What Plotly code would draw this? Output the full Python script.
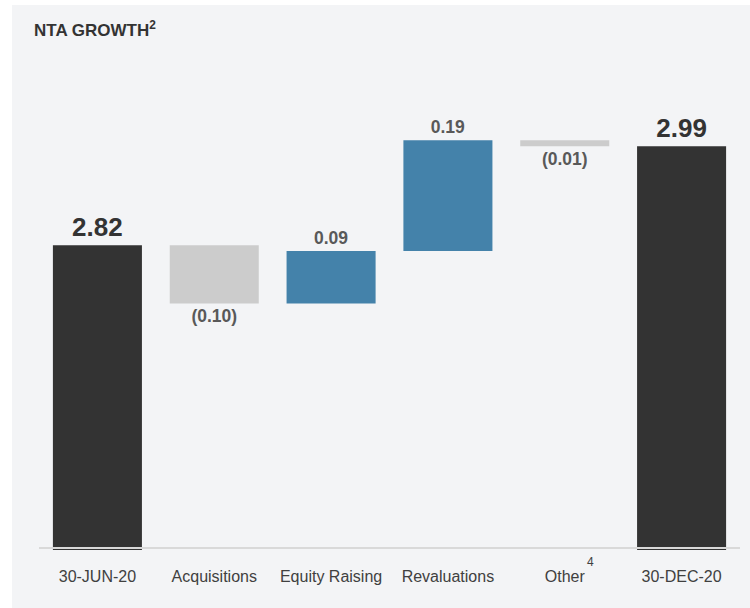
import plotly.graph_objects as go

# ---- data ----
categories = ["30-JUN-20", "Acquisitions", "Equity Raising", "Revaluations", "Other", "30-DEC-20"]
values = [2.82, -0.10, 0.09, 0.19, -0.01, 2.99]
kinds = ["total", "delta", "delta", "delta", "delta", "total"]
tick_labels = ["30-JUN-20", "Acquisitions", "Equity Raising", "Revaluations", "Other", "30-DEC-20"]
title_text = "NTA GROWTH<sup>2</sup>"
other_note = "4"

# ---- derived bar geometry from data ----
bases, heights, texts, colors, sizes, tcolors = [], [], [], [], [], []
running = 0.0
for v, k in zip(values, kinds):
    if k == "total":
        bases.append(0)
        heights.append(v)
        running = v
        texts.append("<b>%.2f</b>" % v)
        colors.append("#333333")
        sizes.append(26)
        tcolors.append("#333333")
    else:
        bases.append(running)
        heights.append(v)
        running += v
        texts.append("<b>%.2f</b>" % v if v >= 0 else "<b>(%.2f)</b>" % abs(v))
        colors.append("#4482aa" if v >= 0 else "#cccccc")
        sizes.append(17.5)
        tcolors.append("#595959")

W, H = 750, 608
L, R, T, B = 39, 10, 60, 58
pw, ph = W - L - R, H - T - B
ppu = 582.35
ymin = 2.30 - 2 / ppu
ymax = ymin + ph / ppu

def px_x(x):
    return (x - L) / pw

def px_y(y):
    return (H - B - y) / ph

fig = go.Figure()
fig.add_trace(go.Bar(
    x=categories, y=heights, base=bases,
    marker=dict(color=colors, line=dict(width=0)),
    text=texts, textposition="outside", constraintext="none", cliponaxis=False,
    textfont=dict(family="Liberation Sans, Arial, sans-serif", size=sizes, color=tcolors),
    width=0.762, showlegend=False, hoverinfo="skip",
))

fig.update_layout(
    width=W, height=H,
    margin=dict(l=L, r=R, t=T, b=B, pad=0),
    paper_bgcolor="#ffffff", plot_bgcolor="rgba(0,0,0,0)",
    font=dict(family="Liberation Sans, Arial, sans-serif", color="#404040"),
    xaxis=dict(showgrid=False, zeroline=False, showline=False, ticks="",
               tickvals=categories, ticktext=tick_labels,
               tickfont=dict(size=16, color="#404040"), ticklabelstandoff=15),
    yaxis=dict(range=[ymin, ymax], visible=False, showgrid=False, zeroline=False),
    shapes=[
        dict(type="rect", xref="paper", yref="paper", x0=px_x(12), x1=px_x(760),
             y0=px_y(620), y1=px_y(5), fillcolor="#f3f4f6", line=dict(width=0), layer="below"),
        dict(type="line", xref="paper", yref="y", x0=0, x1=1, y0=2.30, y1=2.30,
             line=dict(color="#d9d9d9", width=2), layer="above"),
    ],
    annotations=[
        dict(text="<b>" + title_text + "</b>", xref="paper", yref="paper",
             x=px_x(32), y=px_y(29), xanchor="left", yanchor="middle", showarrow=False,
             font=dict(size=17, color="#333333")),
        dict(text=other_note, xref="x", yref="paper", x=categories[4], xshift=26,
             y=px_y(562), yanchor="middle", showarrow=False,
             font=dict(size=12, color="#404040")),
    ],
)

fig.write_html("out.html")
